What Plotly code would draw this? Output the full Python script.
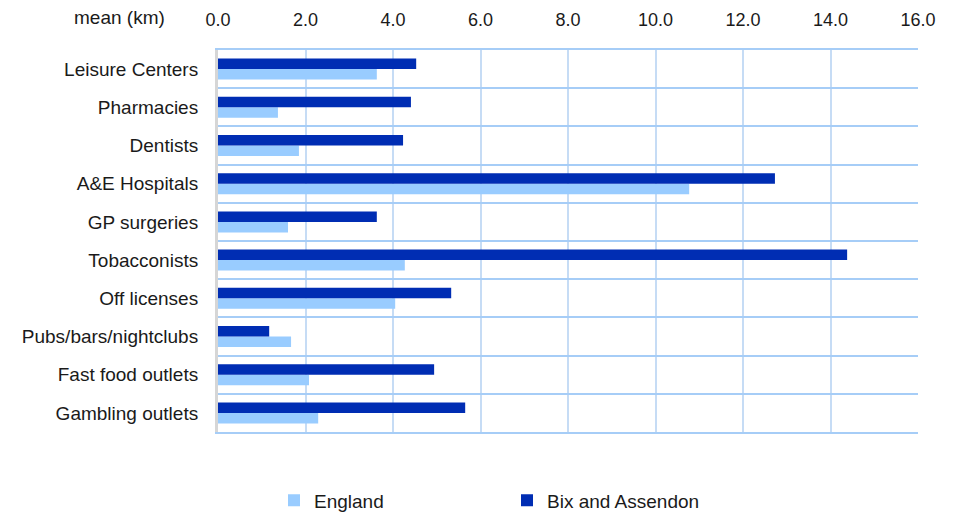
import plotly.graph_objects as go

# Data (mean distance, km)
categories = ['Leisure Centers', 'Pharmacies', 'Dentists', 'A&E Hospitals', 'GP surgeries',
              'Tobacconists', 'Off licenses', 'Pubs/bars/nightclubs', 'Fast food outlets',
              'Gambling outlets']
england = [3.63, 1.37, 1.85, 10.77, 1.60, 4.27, 4.05, 1.67, 2.08, 2.29]
bix_and_assendon = [4.53, 4.41, 4.23, 12.73, 3.63, 14.38, 5.33, 1.17, 4.94, 5.65]
x_ticks = [0, 2, 4, 6, 8, 10, 12, 14, 16]

light = '#99ccff'
dark = '#002db3'
font = 'Liberation Sans, Arial, sans-serif'

fig = go.Figure()
fig.add_trace(go.Bar(y=categories, x=england, name='England', orientation='h',
                     marker_color=light, marker_line_width=0))
fig.add_trace(go.Bar(y=categories, x=bix_and_assendon, name='Bix and Assendon', orientation='h',
                     marker_color=dark, marker_line_width=0))

# page body has an 8px margin, so the figure is a bit smaller than the window
fig.update_layout(
    width=952, height=505,
    margin=dict(l=210, r=42, t=42, b=81),
    plot_bgcolor='white', paper_bgcolor='white',
    barmode='group', bargap=0.45, bargroupgap=0,
    font=dict(family=font, size=18, color='#1a1a1a'),
    showlegend=True,
    legend=dict(orientation='h', x=0.08, y=0.025, xref='paper', yref='container',
                xanchor='left', yanchor='middle',
                entrywidth=188, font=dict(size=19), traceorder='normal'),
    annotations=[dict(text='mean (km)', xref='paper', yref='paper', x=-0.14, y=1.0,
                      yshift=33, xanchor='center', yanchor='middle', showarrow=False,
                      font=dict(size=19))],
)

fig.update_xaxes(
    side='top', range=[0, 16], tickvals=x_ticks, tickformat='.1f',
    showgrid=True, gridcolor='#c6dcf5', gridwidth=2,
    showline=True, linecolor='#a6cdf7', linewidth=2, mirror=True,
    ticks='', ticklabelstandoff=15, zeroline=False, automargin=False,
)
fig.update_yaxes(
    categoryorder='array', categoryarray=categories[::-1],
    tickson='boundaries', showgrid=True, gridcolor='#a6cdf7', gridwidth=2,
    showline=True, linecolor='#d6d6d6', linewidth=3,
    ticks='', ticklabelstandoff=13, automargin=False, tickfont=dict(size=19),
)

fig.write_html('out.html')
